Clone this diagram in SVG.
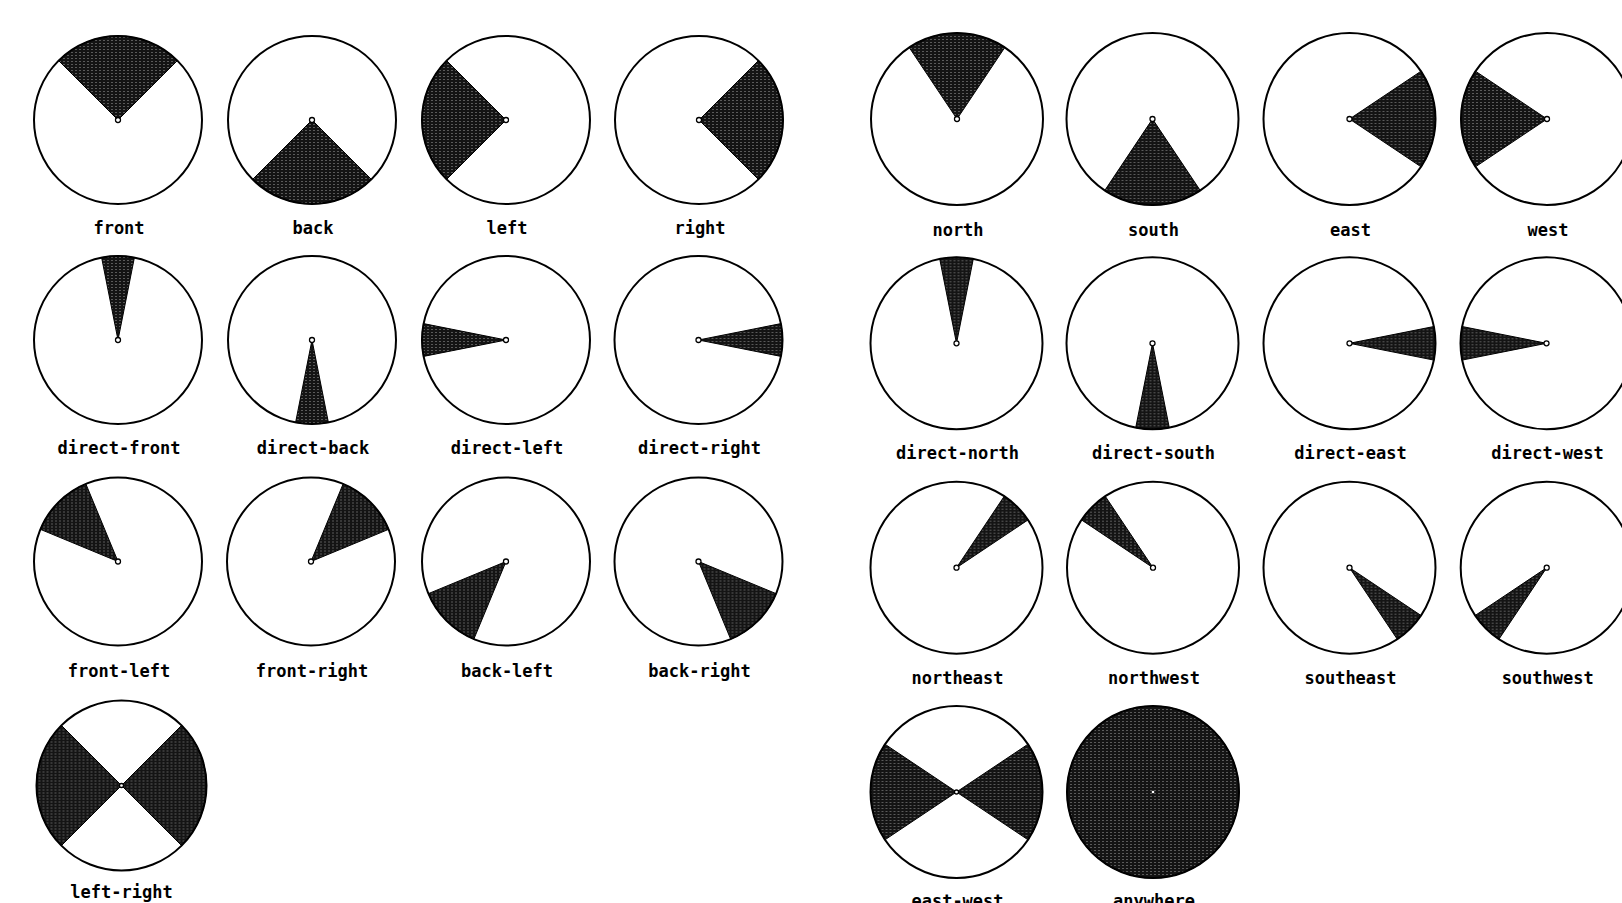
<svg xmlns="http://www.w3.org/2000/svg" width="1622" height="903" viewBox="0 0 1622 903">
<style>
.ring{fill:none;stroke:#000;stroke-width:2}
.w{fill:url(#tex);stroke:#000;stroke-width:1}
.dot{fill:#fff;stroke:#000;stroke-width:1.3}
.lbl{font-family:"DejaVu Sans Mono","Liberation Mono",monospace;font-weight:bold;font-size:17px;fill:#000;text-anchor:middle}
</style>
<defs>
<pattern id="tex" width="4" height="3" patternUnits="userSpaceOnUse">
<rect width="4" height="3" fill="#141414"/>
<rect x="1" y="1" width="2" height="1" fill="#5a5a5a"/>
</pattern>
</defs>
<rect width="1622" height="903" fill="#fff"/>

<!-- Left group -->
<g id="front" transform="translate(118,120)"><path class="w" d="M0,0 L-59.40,-59.40 A84,84 0 0 1 59.40,-59.40 Z"/><circle class="ring" r="84"/><circle class="dot" r="2.5"/><text class="lbl" x="1" y="114">front</text></g>
<g id="back" transform="translate(312,120)"><path class="w" d="M0,0 L59.40,59.40 A84,84 0 0 1 -59.40,59.40 Z"/><circle class="ring" r="84"/><circle class="dot" r="2.5"/><text class="lbl" x="1" y="114">back</text></g>
<g id="left" transform="translate(506,120)"><path class="w" d="M0,0 L-59.40,59.40 A84,84 0 0 1 -59.40,-59.40 Z"/><circle class="ring" r="84"/><circle class="dot" r="2.5"/><text class="lbl" x="1" y="114">left</text></g>
<g id="right" transform="translate(699,120)"><path class="w" d="M0,0 L59.40,-59.40 A84,84 0 0 1 59.40,59.40 Z"/><circle class="ring" r="84"/><circle class="dot" r="2.5"/><text class="lbl" x="1" y="114">right</text></g>

<g id="direct-front" transform="translate(118,340)"><path class="w" d="M0,0 L-16.39,-82.39 A84,84 0 0 1 16.39,-82.39 Z"/><circle class="ring" r="84"/><circle class="dot" r="2.5"/><text class="lbl" x="1" y="114">direct-front</text></g>
<g id="direct-back" transform="translate(312,340)"><path class="w" d="M0,0 L16.39,82.39 A84,84 0 0 1 -16.39,82.39 Z"/><circle class="ring" r="84"/><circle class="dot" r="2.5"/><text class="lbl" x="1" y="114">direct-back</text></g>
<g id="direct-left" transform="translate(506,340)"><path class="w" d="M0,0 L-82.39,16.39 A84,84 0 0 1 -82.39,-16.39 Z"/><circle class="ring" r="84"/><circle class="dot" r="2.5"/><text class="lbl" x="1" y="114">direct-left</text></g>
<g id="direct-right" transform="translate(698.5,340)"><path class="w" d="M0,0 L82.39,-16.39 A84,84 0 0 1 82.39,16.39 Z"/><circle class="ring" r="84"/><circle class="dot" r="2.5"/><text class="lbl" x="1" y="114">direct-right</text></g>

<g id="front-left" transform="translate(118,561.5)"><path class="w" d="M0,0 L-77.61,-32.15 A84,84 0 0 1 -32.15,-77.61 Z"/><circle class="ring" r="84"/><circle class="dot" r="2.5"/><text class="lbl" x="1" y="115">front-left</text></g>
<g id="front-right" transform="translate(311,561.5)"><path class="w" d="M0,0 L32.15,-77.61 A84,84 0 0 1 77.61,-32.15 Z"/><circle class="ring" r="84"/><circle class="dot" r="2.5"/><text class="lbl" x="1" y="115">front-right</text></g>
<g id="back-left" transform="translate(506,561.5)"><path class="w" d="M0,0 L-32.15,77.61 A84,84 0 0 1 -77.61,32.15 Z"/><circle class="ring" r="84"/><circle class="dot" r="2.5"/><text class="lbl" x="1" y="115">back-left</text></g>
<g id="back-right" transform="translate(698.5,561.5)"><path class="w" d="M0,0 L77.61,32.15 A84,84 0 0 1 32.15,77.61 Z"/><circle class="ring" r="84"/><circle class="dot" r="2.5"/><text class="lbl" x="1" y="115">back-right</text></g>

<g id="left-right" transform="translate(121.5,785.5)"><path class="w" d="M0,0 L60.10,-60.10 A85,85 0 0 1 60.10,60.10 Z"/><path class="w" d="M0,0 L-60.10,60.10 A85,85 0 0 1 -60.10,-60.10 Z"/><circle class="ring" r="85"/><circle class="dot" r="2"/><text class="lbl" x="0" y="112.5">left-right</text></g>

<!-- Right group -->
<g id="north" transform="translate(957,119)"><path class="w" d="M0,0 L-47.78,-71.51 A86,86 0 0 1 47.78,-71.51 Z"/><circle class="ring" r="86"/><circle class="dot" r="2.5"/><text class="lbl" x="1" y="117">north</text></g>
<g id="south" transform="translate(1152.5,119)"><path class="w" d="M0,0 L47.78,71.51 A86,86 0 0 1 -47.78,71.51 Z"/><circle class="ring" r="86"/><circle class="dot" r="2.5"/><text class="lbl" x="1" y="117">south</text></g>
<g id="east" transform="translate(1349.5,119)"><path class="w" d="M0,0 L71.51,-47.78 A86,86 0 0 1 71.51,47.78 Z"/><circle class="ring" r="86"/><circle class="dot" r="2.5"/><text class="lbl" x="1" y="117">east</text></g>
<g id="west" transform="translate(1547,119)"><path class="w" d="M0,0 L-71.51,47.78 A86,86 0 0 1 -71.51,-47.78 Z"/><circle class="ring" r="86"/><circle class="dot" r="2.5"/><text class="lbl" x="1" y="117">west</text></g>

<g id="direct-north" transform="translate(956.5,343.3)"><path class="w" d="M0,0 L-16.78,-84.35 A86,86 0 0 1 16.78,-84.35 Z"/><circle class="ring" r="86"/><circle class="dot" r="2.5"/><text class="lbl" x="1" y="115.7">direct-north</text></g>
<g id="direct-south" transform="translate(1152.5,343.3)"><path class="w" d="M0,0 L16.78,84.35 A86,86 0 0 1 -16.78,84.35 Z"/><circle class="ring" r="86"/><circle class="dot" r="2.5"/><text class="lbl" x="1" y="115.7">direct-south</text></g>
<g id="direct-east" transform="translate(1349.5,343.3)"><path class="w" d="M0,0 L84.35,-16.78 A86,86 0 0 1 84.35,16.78 Z"/><circle class="ring" r="86"/><circle class="dot" r="2.5"/><text class="lbl" x="1" y="115.7">direct-east</text></g>
<g id="direct-west" transform="translate(1546.5,343.3)"><path class="w" d="M0,0 L-84.35,16.78 A86,86 0 0 1 -84.35,-16.78 Z"/><circle class="ring" r="86"/><circle class="dot" r="2.5"/><text class="lbl" x="1" y="115.7">direct-west</text></g>

<g id="northeast" transform="translate(956.5,567.7)"><path class="w" d="M0,0 L47.78,-71.51 A86,86 0 0 1 71.51,-47.78 Z"/><circle class="ring" r="86"/><circle class="dot" r="2.5"/><text class="lbl" x="1" y="116.3">northeast</text></g>
<g id="northwest" transform="translate(1153,567.7)"><path class="w" d="M0,0 L-71.51,-47.78 A86,86 0 0 1 -47.78,-71.51 Z"/><circle class="ring" r="86"/><circle class="dot" r="2.5"/><text class="lbl" x="1" y="116.3">northwest</text></g>
<g id="southeast" transform="translate(1349.5,567.7)"><path class="w" d="M0,0 L71.51,47.78 A86,86 0 0 1 47.78,71.51 Z"/><circle class="ring" r="86"/><circle class="dot" r="2.5"/><text class="lbl" x="1" y="116.3">southeast</text></g>
<g id="southwest" transform="translate(1546.7,567.7)"><path class="w" d="M0,0 L-47.78,71.51 A86,86 0 0 1 -71.51,47.78 Z"/><circle class="ring" r="86"/><circle class="dot" r="2.5"/><text class="lbl" x="1" y="116.3">southwest</text></g>

<g id="east-west" transform="translate(956.5,792)"><path class="w" d="M0,0 L71.51,-47.78 A86,86 0 0 1 71.51,47.78 Z"/><path class="w" d="M0,0 L-71.51,47.78 A86,86 0 0 1 -71.51,-47.78 Z"/><circle class="ring" r="86"/><circle class="dot" r="2"/><text class="lbl" x="1" y="115">east-west</text></g>
<g id="anywhere" transform="translate(1153,792)"><circle class="w" r="86"/><circle class="ring" r="86"/><circle r="1.3" fill="#fff"/><text class="lbl" x="1" y="115">anywhere</text></g>

<g id="connectors"/>
</svg>
